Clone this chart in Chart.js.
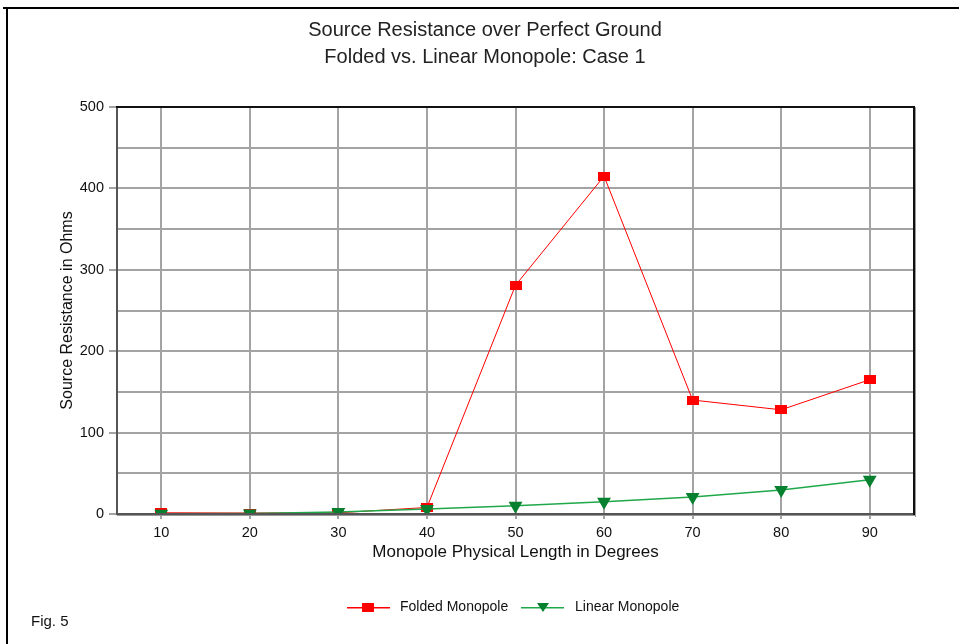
<!DOCTYPE html>
<html><head><meta charset="utf-8">
<script src="https://cdn.jsdelivr.net/npm/chart.js@4"></script>
<style>html,body{margin:0;padding:0;background:#fff;}#wrap{width:959px;height:644px;position:relative;}</style>
</head><body><div id="wrap"><canvas id="c" width="959" height="644"></canvas></div>
<script>
const categories = ['10','20','30','40','50','60','70','80','90'];
const foldedMonopole = [1.5, 1.2, 1.5, 8, 281, 415, 140, 128, 165];
const linearMonopole = [0.4, 0.7, 2.6, 6, 10, 15, 21, 29.5, 42];
const titleLines = ['Source Resistance over Perfect Ground', 'Folded vs. Linear Monopole: Case 1'];
const seriesNames = ['Folded Monopole', 'Linear Monopole'];
const xTitle = 'Monopole Physical Length in Degrees';
const yTitle = 'Source Resistance in Ohms';
const figLabel = 'Fig. 5';

const FONT = '"Liberation Sans", Arial, sans-serif';
const RED = '#ff0000', GREEN_LINE = '#1fa84a', GREEN_MK = '#07812f';

function rectMarker(){const c=document.createElement('canvas');c.width=12;c.height=9;const x=c.getContext('2d');x.fillStyle=RED;x.fillRect(0,0,12,9);return c;}
const redMk = rectMarker();

const decor = {
  id:'decor',
  beforeDraw(chart){
    const ctx=chart.ctx;ctx.save();
    ctx.fillStyle='#fff';ctx.fillRect(0,0,959,644);
    ctx.fillStyle='#000';
    ctx.fillRect(3,7,956,2);
    ctx.fillRect(6,7,2,637);
    ctx.restore();
  },
  afterDraw(chart){
    const ctx=chart.ctx, a=chart.chartArea;ctx.save();
    // plot frame
    ctx.fillStyle='#555';
    ctx.fillRect(a.left-1,a.top-1,2,a.bottom-a.top+2);
    ctx.fillRect(a.left-1,a.bottom-1,a.right-a.left+2,2);
    ctx.fillStyle='#111';
    ctx.fillRect(a.left-1,a.top-1,a.right-a.left+2,2);
    ctx.fillRect(a.right-1,a.top-1,2,a.bottom-a.top+2);
    ctx.fillStyle='#999';
    ctx.fillRect(a.right+1,a.top,1,a.bottom-a.top+3);
    ctx.fillRect(a.left,a.bottom+1,a.right-a.left+2,1);
    // title
    ctx.fillStyle='#222';ctx.textAlign='center';ctx.textBaseline='middle';
    ctx.font='20px '+FONT;
    ctx.fillText(titleLines[0],485,30);
    ctx.fillText(titleLines[1],485,57);
    // legend
    const ly=607;
    ctx.fillStyle=RED;ctx.fillRect(347,ly,43,1.5);
    ctx.drawImage(redMk,362,ly-4);
    ctx.fillStyle=GREEN_LINE;ctx.fillRect(521,ly,43,1.5);
    ctx.fillStyle=GREEN_MK;ctx.beginPath();ctx.moveTo(537,ly-4);ctx.lineTo(549,ly-4);ctx.lineTo(543,ly+5);ctx.closePath();ctx.fill();
    ctx.fillStyle='#111';ctx.textAlign='left';ctx.font='14px '+FONT;
    ctx.fillText(seriesNames[0],400,ly);
    ctx.fillText(seriesNames[1],575,ly);
    ctx.font='15px '+FONT;
    ctx.fillText(figLabel,31,622);
    ctx.restore();
  }
};

new Chart(document.getElementById('c'),{
  type:'line',
  data:{labels:categories,datasets:[
    {label:seriesNames[0],data:foldedMonopole,borderColor:RED,borderWidth:1,pointStyle:redMk,pointRadius:6,pointHoverRadius:6,order:1,tension:0},
    {label:seriesNames[1],data:linearMonopole,borderColor:GREEN_LINE,borderWidth:1.5,backgroundColor:GREEN_MK,pointBackgroundColor:GREEN_MK,pointBorderColor:GREEN_MK,pointStyle:'triangle',rotation:180,pointRadius:6.5,order:0,tension:0}
  ]},
  options:{
    responsive:false,animation:false,
    layout:{padding:{left:58,top:107,right:45,bottom:81}},
    plugins:{legend:{display:false},title:{display:false},tooltip:{enabled:false}},
    scales:{
      x:{type:'category',offset:true,
        grid:{color:'#a3a3a3',lineWidth:2,offset:false,tickLength:5,drawTicks:true,tickColor:'#a3a3a3'},
        border:{display:false},
        ticks:{color:'#111',font:{family:FONT,size:14.5},padding:5,maxRotation:0},
        title:{display:true,text:xTitle,color:'#111',font:{family:FONT,size:17},padding:{top:0,bottom:0}},
        afterFit(s){s.height=49;}
      },
      y:{min:0,max:500,
        grid:{color:'#a3a3a3',lineWidth:2,tickLength:8,tickColor:(c)=>c.tick&&c.tick.value%100===0?'#a3a3a3':'rgba(0,0,0,0)'},
        border:{display:false},
        ticks:{stepSize:50,color:'#111',font:{family:FONT,size:14.5},padding:5,callback:(v)=>v%100===0?String(v):''},
        title:{display:true,text:yTitle,color:'#111',font:{family:FONT,size:16},padding:0},
        afterFit(s){s.width=59;}
      }
    }
  },
  plugins:[decor]
});
</script></body></html>
